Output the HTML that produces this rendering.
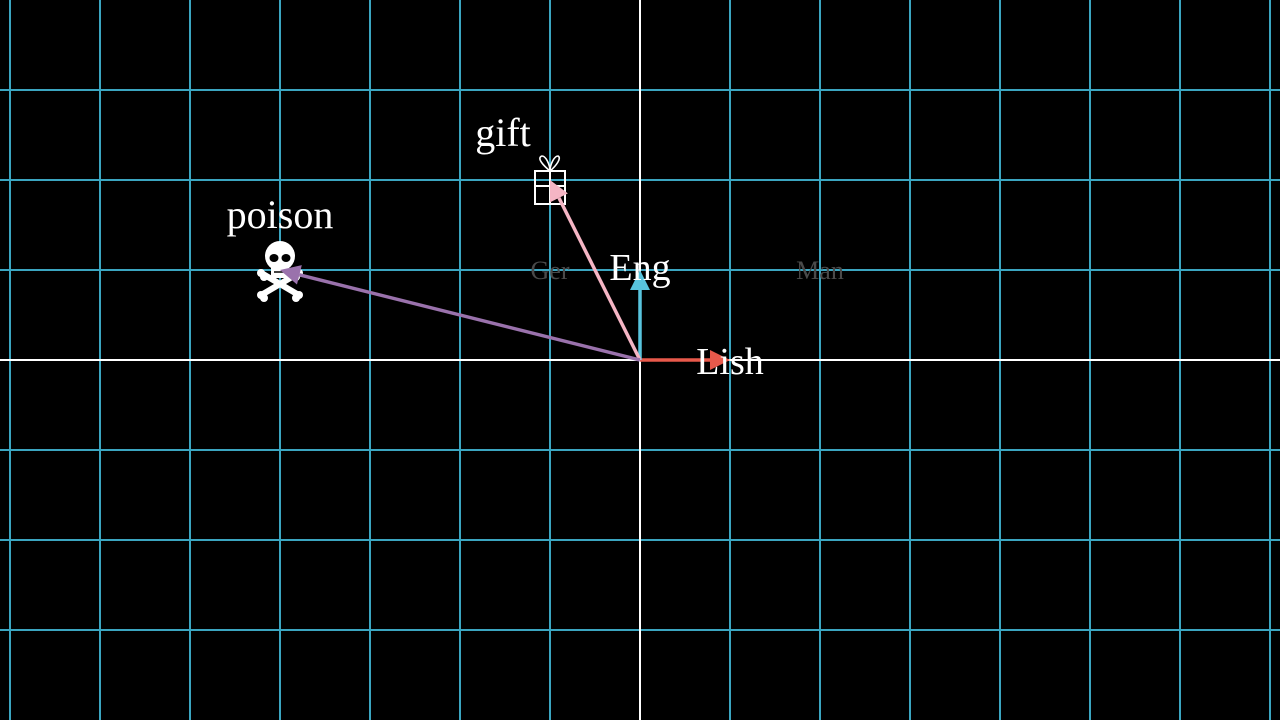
<!DOCTYPE html>
<html><head><meta charset="utf-8"><style>
html,body{margin:0;padding:0;background:#000;width:1280px;height:720px;overflow:hidden}
svg{display:block}
text{font-family:"Liberation Serif",serif}
</style></head><body>
<svg id="c" width="1280" height="720" viewBox="0 0 1280 720"></svg>
<script>
const vectorNames = ["lish","eng","gift","poison"];
const vectorX = [1, 0, -1, -4];
const vectorY = [0, 1, 2, 1];
const vectorColors = ["#e8594b","#58c4dd","#f5b5c4","#9a72ac"];
const labelText = ["Lish","Eng","gift","poison"];
const fadedLabels = ["Ger","Man"];
const fadedX = [-1, 2];
const fadedY = [1, 1];

const U = 90, OX = 640, OY = 360;
const sx = v => OX + v*U, sy = v => OY - v*U;
const svg = document.getElementById('c');
const NS = 'http://www.w3.org/2000/svg';
function mk(tag, attrs, parent){const e=document.createElementNS(NS,tag);for(const k in attrs)e.setAttribute(k,attrs[k]);(parent||svg).appendChild(e);return e;}

for(let i=-7;i<=7;i++){
  const x=sx(i); if(x<-5||x>1285||i===0) continue;
  const l=mk('line',{x1:x,y1:0,x2:x,y2:720,stroke:'#3ba5c0','stroke-width':2});
  
  
}
for(let j=-3;j<=3;j++){
  const y=sy(j); if(j===0) continue;
  const l=mk('line',{x1:0,y1:y,x2:1280,y2:y,stroke:'#3ba5c0','stroke-width':2});
  
  
}
let ax=mk('line',{x1:0,y1:OY,x2:1280,y2:OY,stroke:'#fff','stroke-width':2});


ax=mk('line',{x1:OX,y1:0,x2:OX,y2:720,stroke:'#fff','stroke-width':2});



for(let i=0;i<fadedLabels.length;i++){
  const t=mk('text',{x:sx(fadedX[i]),y:sy(fadedY[i])+9,'font-size':26,fill:'#4a4a4a','text-anchor':'middle'});
  t.textContent=fadedLabels[i];
  
  
}

// gift icon
const gx=sx(-1), gy=sy(2);
const g=document.createElementNS(NS,'g');


g.innerHTML=`<rect x="${gx-15}" y="${gy-9}" width="30" height="33" fill="none" stroke="#fff" stroke-width="2"/>
<line x1="${gx}" y1="${gy-9}" x2="${gx}" y2="${gy+24}" stroke="#fff" stroke-width="2"/>
<line x1="${gx-15}" y1="${gy+6}" x2="${gx+15}" y2="${gy+6}" stroke="#fff" stroke-width="2"/>
<path d="M${gx} ${gy-9} C${gx-6} ${gy-14} ${gx-14} ${gy-22} ${gx-8} ${gy-24} C${gx-4} ${gy-24} ${gx} ${gy-15} ${gx} ${gy-9} C${gx} ${gy-15} ${gx+4} ${gy-24} ${gx+8} ${gy-24} C${gx+12} ${gy-22} ${gx+6} ${gy-14} ${gx} ${gy-9}Z" fill="none" stroke="#fff" stroke-width="1.6"/>`;
svg.appendChild(g);
// skull
const px=sx(-4), py=sy(1);
const sk=document.createElementNS(NS,'g');


sk.innerHTML=`
<line x1="${px-17}" y1="${py+4}" x2="${px+17}" y2="${py+24}" stroke="#fff" stroke-width="6" stroke-linecap="round"/>
<line x1="${px+17}" y1="${py+4}" x2="${px-17}" y2="${py+24}" stroke="#fff" stroke-width="6" stroke-linecap="round"/>
<circle cx="${px-19}" cy="${py+3}" r="4" fill="#fff"/><circle cx="${px-16}" cy="${py+7}" r="4" fill="#fff"/>
<circle cx="${px+19}" cy="${py+3}" r="4" fill="#fff"/><circle cx="${px+16}" cy="${py+7}" r="4" fill="#fff"/>
<circle cx="${px-19}" cy="${py+25}" r="4" fill="#fff"/><circle cx="${px-16}" cy="${py+28}" r="4" fill="#fff"/>
<circle cx="${px+19}" cy="${py+25}" r="4" fill="#fff"/><circle cx="${px+16}" cy="${py+28}" r="4" fill="#fff"/>
<circle cx="${px}" cy="${py-14}" r="15" fill="#fff"/>
<rect x="${px-9}" y="${py-6}" width="18" height="14" rx="3" fill="#fff"/>
<ellipse cx="${px-6}" cy="${py-12}" rx="4.5" ry="4" fill="#000"/>
<ellipse cx="${px+6}" cy="${py-12}" rx="4.5" ry="4" fill="#000"/>
<line x1="${px-6}" y1="${py+2}" x2="${px+6}" y2="${py+2}" stroke="#000" stroke-width="1.5"/>`;
svg.appendChild(sk);

for(let i=0;i<vectorNames.length;i++){
  const x2=sx(vectorX[i]), y2=sy(vectorY[i]);
  const dx=x2-OX, dy=y2-OY, L=Math.hypot(dx,dy), ux=dx/L, uy=dy/L;
  const h=20, w=10;
  const bx=x2-ux*h, by=y2-uy*h;
  const ln=mk('line',{x1:OX,y1:OY,x2:bx,y2:by,stroke:vectorColors[i],'stroke-width':3.5});
  
  
  const tip=mk('polygon',{points:`${x2},${y2} ${bx-uy*w},${by+ux*w} ${bx+uy*w},${by-ux*w}`,fill:vectorColors[i]});
  
  
}

const lp=[[sx(1),OY+14,'middle',38],[OX,sy(1)+10,'middle',38],[sx(-1)-47,sy(2)-34,'middle',40],[sx(-4),sy(1)-42,'middle',40]];
for(let i=0;i<labelText.length;i++){
  const t=mk('text',{x:lp[i][0],y:lp[i][1],'font-size':lp[i][3],fill:'#fff','text-anchor':lp[i][2]});
  t.textContent=labelText[i];
  
  
}
</script>
</body></html>
